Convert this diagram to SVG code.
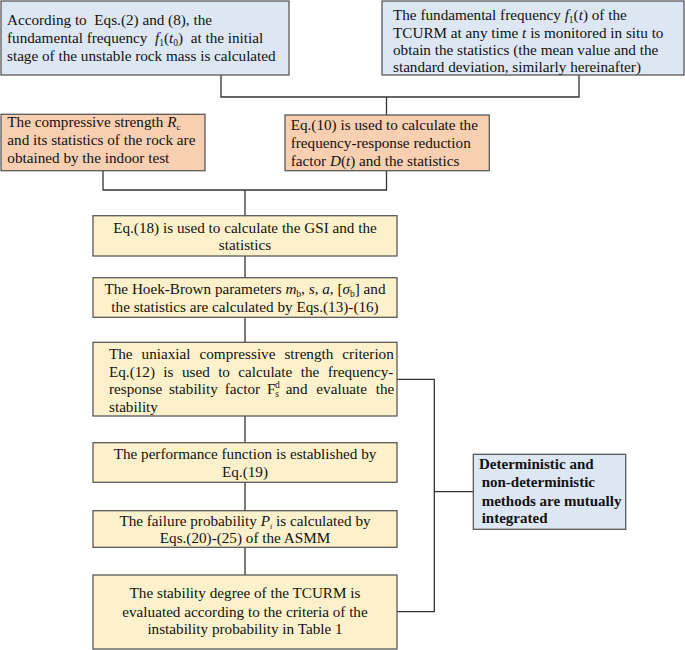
<svg xmlns="http://www.w3.org/2000/svg" width="685" height="650" viewBox="0 0 685 650">
<style>
.bx{stroke:#5a5a5a;stroke-width:1.3}
.blue{fill:#dde7f3}
.orange{fill:#f9cfb2}
.yellow{fill:#fdf1cb}
.t{font-family:"Liberation Serif","Times New Roman",serif;font-size:15.2px;fill:#111}
.c{text-anchor:middle}
.b{font-weight:bold;font-size:15px}
.i{font-style:italic}
.s{font-size:9.5px}
.conn{stroke:#333;stroke-width:1.3;fill:none}
</style>
<rect width="685" height="650" fill="#fff"/>
<g id="connectors">
<polyline class="conn" points="221,75 221,97 579,97 579,75"/>
<line class="conn" x1="386.5" y1="97" x2="386.5" y2="115"/>
<polyline class="conn" points="103,171 103,190 386.5,190 386.5,171"/>
<line class="conn" x1="245" y1="190" x2="245" y2="216"/>
<line class="conn" x1="245" y1="256" x2="245" y2="278"/>
<line class="conn" x1="245" y1="317" x2="245" y2="342"/>
<line class="conn" x1="245" y1="416" x2="245" y2="443"/>
<line class="conn" x1="245" y1="482" x2="245" y2="511"/>
<line class="conn" x1="245" y1="547" x2="245" y2="575"/>
<polyline class="conn" points="397,379.3 434.3,379.3 434.3,611.7 397,611.7"/>
<line class="conn" x1="434.3" y1="491.7" x2="473.3" y2="491.7"/>
</g>
<g id="n1">
<rect class="bx blue" x="1" y="1" width="288" height="74"/>
<text class="t" x="7" y="25.3" xml:space="preserve">According to  Eqs.(2) and (8), the</text>
<text class="t" x="7" y="43" xml:space="preserve">fundamental frequency  <tspan class="i">f</tspan><tspan class="s" dy="3">1</tspan><tspan dy="-3">(</tspan><tspan class="i">t</tspan><tspan class="s" dy="3">0</tspan><tspan dy="-3">)  at the initial</tspan></text>
<text class="t" x="7" y="60.7">stage of the unstable rock mass is calculated</text>
</g>
<g id="n2">
<rect class="bx blue" x="382" y="1" width="302" height="74"/>
<text class="t" x="393" y="20" xml:space="preserve">The fundamental frequency <tspan class="i">f</tspan><tspan class="s" dy="3">1</tspan><tspan dy="-3">(</tspan><tspan class="i">t</tspan>) of the</text>
<text class="t" x="393" y="37.5" xml:space="preserve">TCURM at any time <tspan class="i">t</tspan> is monitored in situ to</text>
<text class="t" x="393" y="55">obtain the statistics (the mean value and the</text>
<text class="t" x="393" y="72">standard deviation, similarly hereinafter)</text>
</g>
<g id="n3">
<rect class="bx orange" x="1" y="114.3" width="204" height="56.4"/>
<text class="t" x="7.3" y="127.3" xml:space="preserve">The compressive strength <tspan class="i">R</tspan><tspan style="font-size:9px" dy="2.2">c</tspan></text>
<text class="t" x="7.3" y="144.8">and its statistics of the rock are</text>
<text class="t" x="7.3" y="162.5">obtained by the indoor test</text>
</g>
<g id="n4">
<rect class="bx orange" x="285" y="115" width="204.3" height="55.7"/>
<text class="t" x="290.7" y="130">Eq.(10) is used to calculate the</text>
<text class="t" x="290.7" y="148.3">frequency-response reduction</text>
<text class="t" x="290.7" y="166" xml:space="preserve">factor <tspan class="i">D</tspan>(<tspan class="i">t</tspan>) and the statistics</text>
</g>
<g id="n5">
<rect class="bx yellow" x="93" y="215.7" width="304" height="40.3"/>
<text class="t c" x="245" y="232.5">Eq.(18) is used to calculate the GSI and the</text>
<text class="t c" x="245" y="250">statistics</text>
</g>
<g id="n6">
<rect class="bx yellow" x="93" y="277.7" width="304" height="39.6"/>
<text class="t c" x="245" y="294" xml:space="preserve">The Hoek-Brown parameters <tspan class="i">m</tspan><tspan class="s" dy="3">b</tspan><tspan dy="-3">, </tspan><tspan class="i">s</tspan>, <tspan class="i">a</tspan>, [<tspan class="i">σ</tspan><tspan class="s" dy="3">b</tspan><tspan dy="-3">] and</tspan></text>
<text class="t c" x="245" y="311.5">the statistics are calculated by Eqs.(13)-(16)</text>
</g>
<g id="n7">
<rect class="bx yellow" x="93" y="342.3" width="304" height="73.7"/>
<text class="t" x="109" y="358.5" word-spacing="5.2">The uniaxial compressive strength criterion</text>
<text class="t" x="109" y="376.5" word-spacing="4.6">Eq.(12) is used to calculate the frequency-</text>
<text class="t" x="109" y="394.3" word-spacing="3">response stability factor F<tspan class="s" dy="3">s</tspan><tspan class="s" dx="-4" dy="-9.5">d</tspan></text>
<text class="t" x="394.3" y="394.3" text-anchor="end" word-spacing="5">and evaluate the</text>
<text class="t" x="109" y="411.5">stability</text>
</g>
<g id="n8">
<rect class="bx yellow" x="93" y="442.7" width="304" height="39.6"/>
<text class="t c" x="245" y="459">The performance function is established by</text>
<text class="t c" x="245" y="477">Eq.(19)</text>
</g>
<g id="n9">
<rect class="bx yellow" x="93" y="510.7" width="304" height="36.6"/>
<text class="t c" x="245" y="526" xml:space="preserve">The failure probability <tspan class="i">P</tspan><tspan style="font-size:7px" dy="2.5">f</tspan><tspan dy="-2.5"> is calculated by</tspan></text>
<text class="t c" x="245" y="543">Eqs.(20)-(25) of the ASMM</text>
</g>
<g id="n10">
<rect class="bx yellow" x="93" y="575" width="304" height="74"/>
<text class="t c" x="245" y="598.3">The stability degree of the TCURM is</text>
<text class="t c" x="245" y="616.5">evaluated according to the criteria of the</text>
<text class="t c" x="245" y="634">instability probability in Table 1</text>
</g>
<g id="n11">
<rect class="bx blue" x="473.3" y="454.3" width="152.4" height="75"/>
<text class="t b" x="479" y="469.3">Deterministic and</text>
<text class="t b" x="481.7" y="487.3">non-deterministic</text>
<text class="t b" x="481.7" y="505.7">methods are mutually</text>
<text class="t b" x="481.7" y="523.3">integrated</text>
</g>
</svg>
